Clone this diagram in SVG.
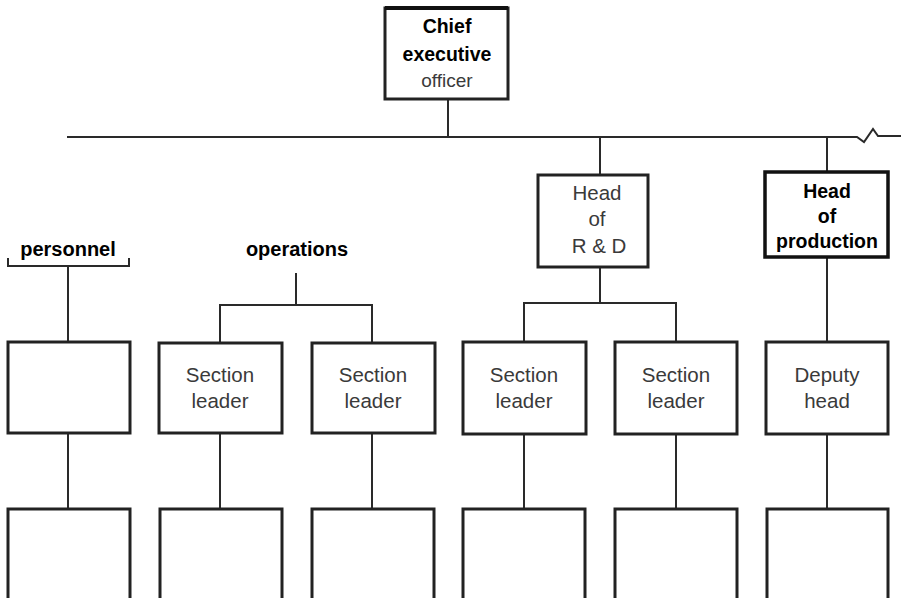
<svg xmlns="http://www.w3.org/2000/svg" width="901" height="598" viewBox="0 0 901 598">
<style>
.bx{fill:#fff;stroke:#222;stroke-width:3}
.bxh{fill:#fff;stroke:#111;stroke-width:3.5}
.ln{fill:none;stroke:#2a2a2a;stroke-width:2}
.t{font-family:"Liberation Sans",Arial,sans-serif;font-size:20.5px;fill:#3a3a3a;text-anchor:middle}
.b{font-family:"Liberation Sans",Arial,sans-serif;font-size:19.5px;font-weight:bold;fill:#000;text-anchor:middle}
</style>
<rect width="901" height="598" fill="#fff"/>
<g id="connectors">
<line class="ln" x1="448" y1="99" x2="448" y2="137"/>
<polyline class="ln" points="67,137 857,137 864,142 873,129 878,136 901,136"/>
<line class="ln" x1="600" y1="137" x2="600" y2="175"/>
<line class="ln" x1="827" y1="137" x2="827" y2="172"/>
<line class="ln" x1="600" y1="267" x2="600" y2="303"/>
<polyline class="ln" points="524,342 524,303 676,303 676,342"/>
<line class="ln" x1="827" y1="257" x2="827" y2="342"/>
<polyline class="ln" points="296,273 296,305"/>
<polyline class="ln" points="220,343 220,305 372,305 372,343"/>
<line class="ln" x1="68" y1="266" x2="68" y2="342"/>
<line class="ln" x1="68" y1="433" x2="68" y2="509"/>
<line class="ln" x1="220" y1="433" x2="220" y2="509"/>
<line class="ln" x1="372" y1="433" x2="372" y2="509"/>
<line class="ln" x1="524" y1="434" x2="524" y2="509"/>
<line class="ln" x1="676" y1="434" x2="676" y2="509"/>
<line class="ln" x1="827" y1="434" x2="827" y2="509"/>
</g>
<g id="ceo">
<rect class="bx" x="385" y="8" width="123" height="91"/>
<line x1="385" y1="8" x2="508" y2="8" stroke="#111" stroke-width="4"/>
<text class="b" x="447" y="33">Chief</text>
<text class="b" x="447" y="61">executive</text>
<text class="t" x="447" y="87" style="font-size:19px">officer</text>
</g>
<g id="personnel">
<polyline class="ln" points="8,258 8,266 129,266 129,258"/>
<text class="b" x="68" y="256" style="font-size:20px">personnel</text>
</g>
<g id="operations">
<text class="b" x="297" y="256" style="font-size:20px">operations</text>
</g>
<g id="head-rd">
<rect class="bx" x="538" y="175" width="110" height="92"/>
<text class="t" x="597" y="200">Head</text>
<text class="t" x="597" y="226">of</text>
<text class="t" x="599" y="253">R &amp; D</text>
</g>
<g id="head-production">
<rect class="bxh" x="765" y="172" width="123" height="85"/>
<text class="b" x="827" y="198">Head</text>
<text class="b" x="827" y="223">of</text>
<text class="b" x="827" y="248">production</text>
</g>
<g id="box-personnel-1"><rect class="bx" x="8" y="342" width="122" height="91"/></g>
<g id="section-leader-1">
<rect class="bx" x="159" y="343" width="123" height="90"/>
<text class="t" x="220" y="382">Section</text>
<text class="t" x="220" y="408">leader</text>
</g>
<g id="section-leader-2">
<rect class="bx" x="312" y="343" width="123" height="90"/>
<text class="t" x="373" y="382">Section</text>
<text class="t" x="373" y="408">leader</text>
</g>
<g id="section-leader-3">
<rect class="bx" x="463" y="342" width="123" height="92"/>
<text class="t" x="524" y="382">Section</text>
<text class="t" x="524" y="408">leader</text>
</g>
<g id="section-leader-4">
<rect class="bx" x="615" y="342" width="122" height="92"/>
<text class="t" x="676" y="382">Section</text>
<text class="t" x="676" y="408">leader</text>
</g>
<g id="deputy-head">
<rect class="bx" x="766" y="342" width="122" height="92"/>
<text class="t" x="827" y="382">Deputy</text>
<text class="t" x="827" y="408">head</text>
</g>
<g id="box-b1"><rect class="bx" x="8" y="509" width="122" height="100"/></g>
<g id="box-b2"><rect class="bx" x="160" y="509" width="122" height="100"/></g>
<g id="box-b3"><rect class="bx" x="312" y="509" width="122" height="100"/></g>
<g id="box-b4"><rect class="bx" x="463" y="509" width="122" height="100"/></g>
<g id="box-b5"><rect class="bx" x="615" y="509" width="122" height="100"/></g>
<g id="box-b6"><rect class="bx" x="767" y="509" width="121" height="100"/></g>
</svg>
